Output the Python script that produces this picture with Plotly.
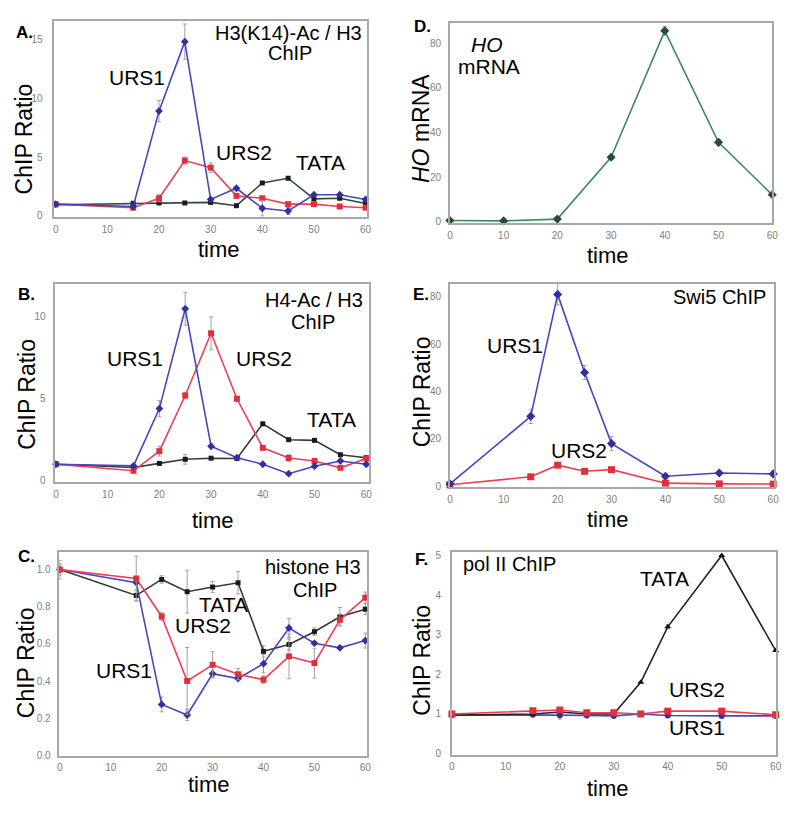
import plotly.graph_objects as go

W, H = 800, 814
FONT = "Liberation Sans, Arial, sans-serif"

# ---------------- data ----------------
tA = [0, 15, 20, 25, 30, 35, 40, 45, 50, 55, 60]
A_urs1 = [1.0, 0.8, 8.9, 14.8, 1.4, 2.35, 0.65, 0.42, 1.8, 1.8, 1.4]
A_urs1_err = [0, 0, 0.9, 1.5, 0, 0, 0.65, 0.3, 0, 0, 0]
A_urs2 = [1.0, 0.7, 1.5, 4.7, 4.1, 1.7, 1.5, 1.0, 1.0, 0.8, 0.7]
A_urs2_err = [0, 0, 0.3, 0.3, 0.4, 0, 0, 0, 0, 0, 0]
A_tata = [0.95, 1.07, 1.1, 1.1, 1.15, 0.87, 2.8, 3.2, 1.45, 1.5, 1.05]
A_tata_err = [0, 0, 0, 0.1, 0, 0, 0, 0, 0, 0, 0]

tB = [0, 15, 20, 25, 30, 35, 40, 45, 50, 55, 60]
B_urs1 = [1.0, 0.9, 4.4, 10.5, 2.1, 1.4, 1.0, 0.42, 0.88, 1.2, 1.0]
B_urs1_err = [0, 0, 0.5, 1.0, 0, 0, 0, 0, 0, 0, 0]
B_urs2 = [1.0, 0.6, 1.8, 5.2, 9.0, 5.0, 2.0, 1.38, 1.2, 0.78, 1.35]
B_urs2_err = [0, 0, 0.3, 0.2, 1.0, 0.15, 0, 0.2, 0, 0, 0]
B_tata = [1.0, 0.8, 1.05, 1.3, 1.37, 1.35, 3.47, 2.5, 2.46, 1.58, 1.4]
B_tata_err = [0, 0, 0.1, 0.3, 0, 0, 0, 0, 0, 0, 0]

tC = [0, 15, 20, 25, 30, 35, 40, 45, 50, 55, 60]
C_urs1 = [1.0, 0.93, 0.275, 0.218, 0.44, 0.414, 0.494, 0.686, 0.604, 0.579, 0.618]
C_urs1_err = [0, 0, 0.04, 0.03, 0.02, 0, 0.05, 0.05, 0, 0, 0.04]
C_urs2 = [1.0, 0.952, 0.748, 0.401, 0.488, 0.437, 0.408, 0.533, 0.497, 0.73, 0.849]
C_urs2_err = [0.03, 0.12, 0.02, 0.18, 0.07, 0.03, 0.02, 0.12, 0.08, 0.03, 0.03]
C_tata = [1.0, 0.861, 0.947, 0.881, 0.906, 0.929, 0.56, 0.597, 0.666, 0.746, 0.787]
C_tata_err = [0.05, 0.03, 0.02, 0.115, 0.03, 0.06, 0.03, 0.03, 0.02, 0.05, 0.03]

tD = [0, 10, 20, 30, 40, 50, 60]
D_mrna = [0.6, 0.4, 1.2, 28.9, 85.6, 35.6, 12.1]
D_mrna_err = [0, 0, 0, 0, 2.0, 1.5, 0]

tE = [0, 15, 20, 25, 30, 40, 50, 60]
E_urs1 = [1.0, 29.5, 81.0, 48.0, 18.0, 4.2, 5.6, 5.2]
E_urs1_err = [0, 3.0, 4.5, 3.0, 3.0, 0, 0, 0]
E_urs2 = [0.6, 4.0, 8.9, 6.3, 7.0, 1.3, 1.0, 0.9]
E_urs2_err = [0, 0, 0.8, 0, 0, 0, 0, 0]

tF = [0, 15, 20, 25, 30, 35, 40, 50, 60]
F_urs1 = [0.97, 0.98, 0.97, 0.96, 0.95, 1.0, 0.96, 0.95, 0.95]
F_urs1_err = [0, 0, 0.1, 0, 0, 0.05, 0, 0, 0]
F_urs2 = [1.0, 1.08, 1.1, 1.03, 1.03, 1.0, 1.07, 1.07, 0.98]
F_urs2_err = [0, 0.04, 0.05, 0, 0, 0, 0.04, 0.04, 0]
F_tata = [0.97, 1.0, 1.05, 1.0, 1.0, 1.8, 3.2, 5.0, 2.6]
F_tata_err = [0, 0, 0, 0, 0, 0, 0.05, 0, 0]

BLUE = "#4646c0"
BLUE_M = "#3030a0"
RED = "#ee3f55"
RED_M = "#e0303c"
BLACK = "#383838"
DKGREEN = "#2d4a3a"
GREEN = "#3d8a5f"
ERR = "#a0a0a0"

fig = go.Figure()


def add(x, y, err, n, color, mcolor, symbol, size=6, name=""):
    fig.add_trace(go.Scatter(
        x=x, y=y, mode="lines+markers", name=name,
        xaxis="x" + ("" if n == 1 else str(n)),
        yaxis="y" + ("" if n == 1 else str(n)),
        line=dict(color=color, width=1.6),
        marker=dict(color=mcolor, symbol=symbol, size=size),
        error_y=dict(type="data", array=err, visible=True, color=ERR,
                     thickness=1, width=2),
        cliponaxis=False, showlegend=False))


# A (1)
add(tA, A_tata, A_tata_err, 1, DKGREEN, "#1a1a1a", "square", 5, "TATA")
add(tA, A_urs2, A_urs2_err, 1, RED, RED_M, "square", 6, "URS2")
add(tA, A_urs1, A_urs1_err, 1, BLUE, BLUE_M, "diamond", 6, "URS1")
# B (2)
add(tB, B_tata, B_tata_err, 2, BLACK, "#1a1a1a", "square", 5, "TATA")
add(tB, B_urs2, B_urs2_err, 2, RED, RED_M, "square", 6, "URS2")
add(tB, B_urs1, B_urs1_err, 2, BLUE, BLUE_M, "diamond", 6, "URS1")
# C (3)
add(tC, C_tata, C_tata_err, 3, BLACK, "#1a1a1a", "square", 5, "TATA")
add(tC, C_urs1, C_urs1_err, 3, BLUE, BLUE_M, "diamond", 6, "URS1")
add(tC, C_urs2, C_urs2_err, 3, RED, RED_M, "square", 6, "URS2")
# D (4)
add(tD, D_mrna, D_mrna_err, 4, GREEN, "#2a4a38", "diamond", 7, "HO mRNA")
# E (5)
add(tE, E_urs2, E_urs2_err, 5, RED, RED_M, "square", 7, "URS2")
add(tE, E_urs1, E_urs1_err, 5, BLUE, BLUE_M, "diamond", 7, "URS1")
# F (6)
add(tF, F_urs1, F_urs1_err, 6, BLUE, BLUE_M, "circle", 6, "URS1")
add(tF, F_tata, F_tata_err, 6, "#222222", "#111111", "triangle-up", 6, "TATA")
add(tF, F_urs2, F_urs2_err, 6, RED, RED_M, "square", 7, "URS2")

# ---------------- layout ----------------
panels = {
    1: dict(px=(52, 368), py=(19, 217), xr=[-0.25, 60.25], yr=[-0.08, 16.57], dt=5, fmt="", ys=8),
    2: dict(px=(53, 370), py=(285, 485), xr=[-0.1, 60.5], yr=[-0.1, 12.0], dt=5, fmt="", ys=6),
    3: dict(px=(57, 368), py=(555, 761), xr=[-0.1, 60.3], yr=[0, 1.097], dt=0.2, fmt=".1f", ys=5),
    4: dict(px=(452, 778), py=(21, 223), xr=[0, 60], yr=[-0.45, 89.2], dt=20, fmt="", ys=5),
    5: dict(px=(452, 780), py=(285, 490), xr=[0, 60.2], yr=[-0.4, 85.3], dt=20, fmt="", ys=5),
    6: dict(px=(454, 782), py=(555, 760), xr=[0, 60.1], yr=[-0.025, 5.1], dt=1, fmt="", ys=7),
}

layout = dict(
    width=W, height=H, margin=dict(l=0, r=0, t=0, b=0),
    paper_bgcolor="white", plot_bgcolor="white",
    font=dict(family=FONT, color="black"),
)
for n, p in panels.items():
    s = "" if n == 1 else str(n)
    layout["xaxis" + s] = dict(
        domain=[p["px"][0] / W, p["px"][1] / W], range=p["xr"],
        anchor="y" + s, tick0=0, dtick=10, showgrid=False, zeroline=False,
        showline=True, mirror=True, linecolor="#a8a8a8", linewidth=1.5,
        ticks="", tickfont=dict(size=10, color="#808080"), ticklabelstandoff=2,
    )
    layout["yaxis" + s] = dict(
        domain=[1 - p["py"][1] / H, 1 - p["py"][0] / H], range=p["yr"],
        anchor="x" + s, tick0=0, dtick=p["dt"], tickformat=p["fmt"],
        showgrid=False, zeroline=False,
        showline=True, mirror=True, linecolor="#a8a8a8", linewidth=1.5,
        ticks="", tickfont=dict(size=10, color="#808080"), ticklabelstandoff=p["ys"],
    )

fig.update_layout(**layout)


def ann(text, x, y, size=20, bold=False, angle=0):
    fig.add_annotation(
        text=("<b>%s</b>" % text) if bold else text,
        x=x / W, y=1 - y / H, xref="paper", yref="paper",
        xanchor="center", yanchor="middle", showarrow=False,
        textangle=angle, font=dict(size=size, family=FONT, color="black"))


# panel letters
ann("A.", 22, 31, 17, True)
ann("B.", 24, 295, 17, True)
ann("C.", 24, 560, 17, True)
ann("D.", 424, 25, 17, True)
ann("E.", 423, 295, 17, True)
ann("F.", 423, 563, 17, True)

# axis titles
for x, y in [(21, 138), (24, 396), (24, 667), (424, 394), (424, 665)]:
    ann("ChIP Ratio", x, y, 23, angle=-90)
ann("<i>HO</i> mRNA", 422, 128, 23, angle=-90)
for x, y in [(218, 250), (212, 524), (208, 790), (612, 256), (612, 523), (612, 794)]:
    ann("time", x, y, 22)

# panel A labels
ann("H3(K14)-Ac / H3", 289, 31, 20)
ann("ChIP", 290, 52, 20)
ann("URS1", 136, 76, 21)
ann("URS2", 244, 152, 21)
ann("TATA", 321, 162, 21)
# panel B labels
ann("H4-Ac / H3", 315, 301, 20)
ann("ChIP", 314, 323, 20)
ann("URS1", 134, 360, 21)
ann("URS2", 264, 360, 21)
ann("TATA", 332, 422, 21)
# panel C labels
ann("histone H3", 314, 571, 20)
ann("ChIP", 316, 594, 20)
ann("TATA", 223, 608, 21)
ann("URS2", 202, 630, 21)
ann("URS1", 122, 675, 21)
# panel D labels
ann("<i>HO</i>", 490, 43, 21)
ann("mRNA", 492, 65, 21)
# panel E labels
ann("Swi5 ChIP", 725, 298, 20)
ann("URS1", 518, 347, 21)
ann("URS2", 583, 453, 21)
# panel F labels
ann("pol II ChIP", 512, 568, 20)
ann("TATA", 669, 582, 21)
ann("URS2", 702, 694, 21)
ann("URS1", 702, 733, 21)

fig.write_html("out.html", config={"displayModeBar": False},
               post_script="document.body.style.margin='0px';document.body.style.padding='0px';")
